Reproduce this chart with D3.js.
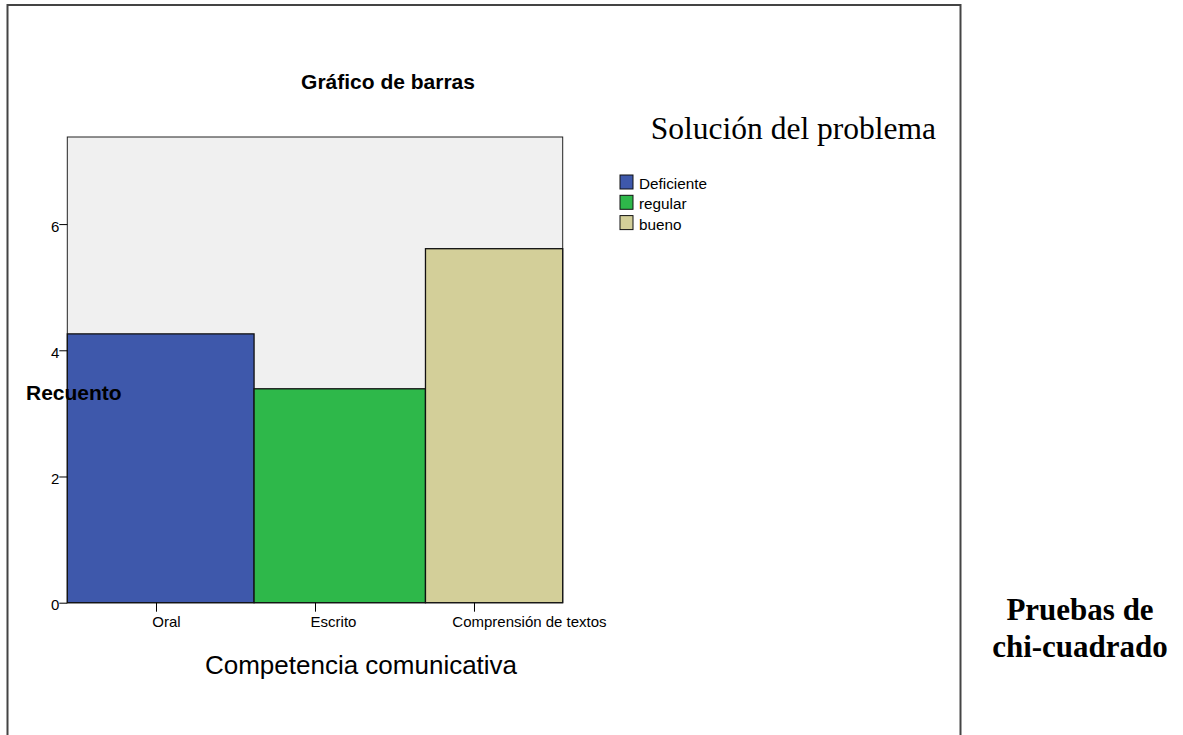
<!DOCTYPE html>
<html>
<head>
<meta charset="utf-8">
<script src="https://cdn.jsdelivr.net/npm/d3@7"></script>
<style>
  body { margin: 0; background: #fff; }
  text { font-family: "Liberation Sans", Arial, sans-serif; }
</style>
</head>
<body>
<div id="container"></div>
<script>
const width = 1183;
const height = 735;

// data
const categorias = ["Oral", "Escrito", "Comprensión de textos"];
const recuento = [4.26, 3.39, 5.61];
const anchoRelativo = [37.7, 34.6, 27.7];
const serie = ["Deficiente", "regular", "bueno"];
const yTicks = [0, 2, 4, 6];
const colores = ["#3e58ab", "#2eb84a", "#d3cf99"];

// layout
const plot = { left: 67.3, right: 562.7, top: 137, bottom: 602.7 };
const labelDx = [10, 18, 55];

const svg = d3.select("#container")
  .append("svg")
  .attr("width", width)
  .attr("height", height);

// outer frame
svg.append("rect")
  .attr("x", 7.5).attr("y", 5)
  .attr("width", 953).attr("height", 800)
  .attr("fill", "#fff")
  .attr("stroke", "#444")
  .attr("stroke-width", 2);

const y = d3.scaleLinear()
  .domain([0, 7.38])
  .range([plot.bottom, plot.top]);

const xTick = d3.scalePoint()
  .domain(categorias)
  .range([plot.left, plot.right])
  .padding(0.558);

// bars have variable width
const acumulado = [0];
anchoRelativo.forEach((d, i) => acumulado.push(acumulado[i] + d));
const xBar = d3.scaleLinear()
  .domain([0, acumulado[acumulado.length - 1]])
  .range([plot.left, plot.right]);

// plot background
svg.append("rect")
  .attr("x", plot.left).attr("y", plot.top)
  .attr("width", plot.right - plot.left)
  .attr("height", plot.bottom - plot.top)
  .attr("fill", "#f0f0f0")
  .attr("stroke", "#222")
  .attr("stroke-width", 1);

svg.selectAll(".bar")
  .data(recuento)
  .enter()
  .append("rect")
  .attr("class", "bar")
  .attr("x", (d, i) => xBar(acumulado[i]))
  .attr("y", d => y(d))
  .attr("width", (d, i) => xBar(acumulado[i + 1]) - xBar(acumulado[i]))
  .attr("height", d => plot.bottom - y(d))
  .attr("fill", (d, i) => colores[i])
  .attr("stroke", "#111")
  .attr("stroke-width", 1.3);

// y axis
const yAxis = svg.append("g")
  .attr("transform", "translate(" + plot.left + ",0)")
  .call(d3.axisLeft(y).tickValues(yTicks).tickSize(8).tickPadding(0).tickFormat(d3.format("d")));
yAxis.select(".domain").remove();
yAxis.selectAll("line").attr("stroke", "#000");
yAxis.selectAll("text")
  .attr("dy", "0.48em")
  .style("font-family", "'Liberation Sans', Arial, sans-serif")
  .style("font-size", "15px")
  .attr("fill", "#000");

// x axis
const xAxis = svg.append("g")
  .attr("transform", "translate(0," + plot.bottom + ")")
  .call(d3.axisBottom(xTick).tickSize(9).tickPadding(5));
xAxis.select(".domain").remove();
xAxis.selectAll("line").attr("stroke", "#000");
xAxis.selectAll("text")
  .attr("dx", (d, i) => labelDx[i])
  .style("font-family", "'Liberation Sans', Arial, sans-serif")
  .style("font-size", "15px")
  .attr("fill", "#000");

// titles
svg.append("text")
  .attr("x", 388).attr("y", 89)
  .attr("text-anchor", "middle")
  .style("font-size", "21px")
  .style("font-weight", "bold")
  .text("Gráfico de barras");

svg.append("text")
  .attr("x", 26).attr("y", 400)
  .style("font-size", "21px")
  .style("font-weight", "bold")
  .text("Recuento");

svg.append("text")
  .attr("x", 361).attr("y", 674)
  .attr("text-anchor", "middle")
  .style("font-size", "26px")
  .text("Competencia comunicativa");

svg.append("text")
  .attr("x", 936).attr("y", 139)
  .attr("text-anchor", "end")
  .style("font-family", "'Liberation Serif', 'Times New Roman', serif")
  .style("font-size", "31.5px")
  .text("Solución del problema");

// legend
const legend = svg.append("g")
  .attr("transform", "translate(620,175)");

legend.selectAll("rect")
  .data(serie)
  .enter()
  .append("rect")
  .attr("x", 0)
  .attr("y", (d, i) => i * 20.3)
  .attr("width", 13)
  .attr("height", 14)
  .attr("fill", (d, i) => colores[i])
  .attr("stroke", "#111")
  .attr("stroke-width", 1);

legend.selectAll("text")
  .data(serie)
  .enter()
  .append("text")
  .attr("x", 19)
  .attr("y", (d, i) => i * 20.3 + 14)
  .style("font-size", "15.3px")
  .text(d => d);

// side note
const nota = svg.append("text")
  .attr("text-anchor", "middle")
  .style("font-family", "'Liberation Serif', 'Times New Roman', serif")
  .style("font-size", "31px")
  .style("font-weight", "bold");
nota.append("tspan").attr("x", 1080).attr("y", 620).text("Pruebas de");
nota.append("tspan").attr("x", 1080).attr("y", 656.7).text("chi-cuadrado");
</script>
</body>
</html>
